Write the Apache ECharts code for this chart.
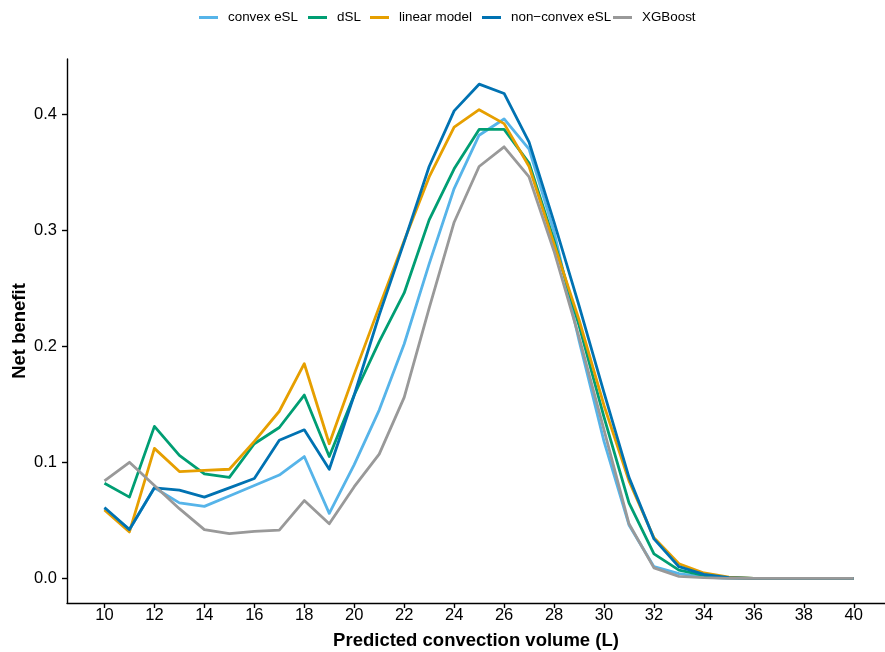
<!DOCTYPE html>
<html>
<head>
<meta charset="utf-8">
<script src="https://cdn.jsdelivr.net/npm/echarts@6/dist/echarts.min.js"></script>
<style>
  html, body { margin: 0; padding: 0; background: #fff; }
  #chart { width: 885px; height: 652px; }
</style>
</head>
<body>
<div id="chart"></div>
<script>
// Predicted convection volume (L), one point per litre
const volumes = [10,11,12,13,14,15,16,17,18,19,20,21,22,23,24,25,26,27,28,29,30,31,32,33,34,35,36,37,38,39,40];

// Net benefit per model
const convexESL    = [0.060,0.042,0.078,0.065,0.062,0.071,0.080,0.089,0.105,0.056,0.098,0.145,0.202,0.271,0.336,0.382,0.396,0.370,0.299,0.205,0.118,0.046,0.010,0.004,0.001,0,0,0,0,0,0];
const dSL          = [0.082,0.070,0.131,0.106,0.090,0.087,0.116,0.130,0.158,0.105,0.158,0.204,0.246,0.309,0.353,0.387,0.387,0.358,0.291,0.218,0.139,0.065,0.021,0.007,0.0026,0.0005,0,0,0,0,0];
const linearModel  = [0.059,0.040,0.112,0.092,0.093,0.094,0.118,0.144,0.185,0.116,0.176,0.234,0.291,0.346,0.389,0.404,0.392,0.355,0.288,0.223,0.149,0.084,0.035,0.0125,0.0046,0.001,0,0,0,0,0];
const nonConvexESL = [0.061,0.042,0.078,0.076,0.070,0.078,0.086,0.119,0.128,0.094,0.158,0.227,0.290,0.355,0.403,0.426,0.418,0.376,0.307,0.235,0.160,0.087,0.034,0.010,0.0034,0.0005,0,0,0,0,0];
const xgboost      = [0.084,0.100,0.080,0.060,0.042,0.0385,0.0405,0.0415,0.067,0.047,0.079,0.107,0.156,0.233,0.307,0.355,0.372,0.346,0.282,0.208,0.128,0.047,0.009,0.0017,0.0005,0,0,0,0,0,0];

// Axis ticks
const xTicks = [10,12,14,16,18,20,22,24,26,28,30,32,34,36,38,40];
const yTicks = [0,0.1,0.2,0.3,0.4];

const seriesNames = ['convex eSL', 'dSL', 'linear model', 'non\u2212convex eSL', 'XGBoost'];
const seriesValues = [convexESL, dSL, linearModel, nonConvexESL, xgboost];
const colors = ['#56B4E9', '#009E73', '#E69F00', '#0072B2', '#999999'];
const legendLeft = [199, 308, 370, 482, 613];

const FONT = '"Liberation Sans", Arial, Helvetica, sans-serif';

const chart = echarts.init(document.getElementById('chart'), null, { renderer: 'canvas' });

const series = seriesNames.map((name, i) => ({
  name: name,
  type: 'line',
  data: volumes.map((v, j) => [v, seriesValues[i][j]]),
  showSymbol: false,
  symbol: 'none',
  color: colors[i],
  lineStyle: { width: 2.8, color: colors[i], join: 'round' },
  z: 2 + i
}));

const legends = seriesNames.map((name, i) => ({
  data: [name],
  left: legendLeft[i],
  top: 11,
  icon: 'rect',
  itemWidth: 19,
  itemHeight: 3,
  padding: 0,
  textStyle: { fontFamily: FONT, fontSize: 13.4, color: '#000', padding: [0, 0, 0, 5] },
  selectedMode: false
}));

chart.setOption({
  animation: false,
  backgroundColor: '#ffffff',
  legend: legends,
  grid: { left: 67, right: 0, top: 59, bottom: 49, containLabel: false, outerBoundsMode: 'none' },
  xAxis: {
    type: 'value',
    min: 8.5,
    max: 41.25,
    name: 'Predicted convection volume (L)',
    nameLocation: 'middle',
    nameGap: 28,
    nameMoveOverlap: false,
    nameTextStyle: { fontFamily: FONT, fontSize: 18.5, fontWeight: 'bold', color: '#000' },
    axisLine: { show: true, onZero: false, lineStyle: { color: '#000', width: 1.4 } },
    axisTick: { show: true, length: 5, lineStyle: { color: '#000', width: 1.4 }, customValues: xTicks },
    axisLabel: { fontFamily: FONT, fontSize: 16.5, color: '#000', margin: 4, customValues: xTicks },
    splitLine: { show: false }
  },
  yAxis: {
    type: 'value',
    min: -0.0213,
    max: 0.4477,
    name: 'Net benefit',
    nameLocation: 'middle',
    nameGap: 38,
    nameRotate: 90,
    nameMoveOverlap: false,
    nameTextStyle: { fontFamily: FONT, fontSize: 18.5, fontWeight: 'bold', color: '#000' },
    axisLine: { show: true, onZero: false, lineStyle: { color: '#000', width: 1.4 } },
    axisTick: { show: true, length: 5, lineStyle: { color: '#000', width: 1.4 }, customValues: yTicks },
    axisLabel: { fontFamily: FONT, fontSize: 16.5, color: '#000', margin: 10, customValues: yTicks,
                 formatter: v => v.toFixed(1) },
    splitLine: { show: false }
  },
  series: series
});
</script>
</body>
</html>
